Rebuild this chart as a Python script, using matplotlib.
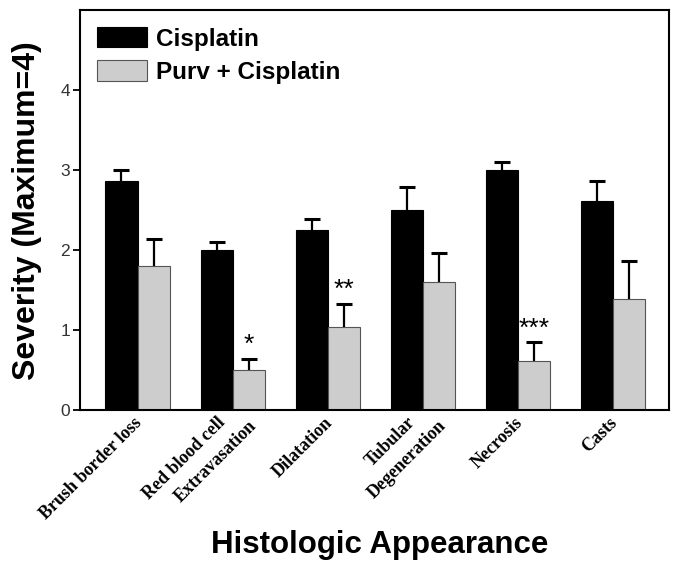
import numpy as np
import matplotlib
matplotlib.use("Agg")
import matplotlib.pyplot as plt
import matplotlib.transforms as mtransforms

categories = ["Brush border loss", "Red blood cell\nExtravasation", "Dilatation",
              "Tubular\nDegeneration", "Necrosis", "Casts"]
cisplatin = [2.87, 2.0, 2.25, 2.5, 3.0, 2.62]
cisplatin_err = [0.13, 0.10, 0.14, 0.29, 0.10, 0.25]
purv = [1.80, 0.50, 1.04, 1.60, 0.61, 1.39]
purv_err = [0.34, 0.14, 0.29, 0.37, 0.24, 0.47]
marks = ["", "*", "**", "", "***", ""]

plt.rcParams['font.family'] = ['Liberation Sans', 'DejaVu Sans']

fig = plt.figure(figsize=(6.76, 5.68), dpi=100)
ax = fig.add_axes([0.118, 0.278, 0.872, 0.704])

x = np.arange(len(categories))
w = 0.337

ax.bar(x - w / 2, cisplatin, w, color='black', edgecolor='black', linewidth=0.8,
       label='Cisplatin')
ax.bar(x + w / 2, purv, w, color='#cdcdcd', edgecolor='#555555', linewidth=0.8,
       label='Purv + Cisplatin')

# upper error bars only
for xs, ys, es in [(x - w / 2, cisplatin, cisplatin_err), (x + w / 2, purv, purv_err)]:
    eb = ax.errorbar(xs, ys, yerr=[np.zeros(len(x)), es], fmt='none',
                     ecolor='black', elinewidth=1.6, capsize=5.5, capthick=2.2)
    eb[1][0].set_visible(False)

for i, m in enumerate(marks):
    if m:
        ax.text(x[i] + w / 2, purv[i] + purv_err[i] + 0.02, m, ha='center', va='bottom',
                fontsize=19)

ax.set_xlim(-0.607, 5.59)
ax.set_ylim(0, 5)
ax.set_yticks([0, 1, 2, 3, 4])
ax.tick_params(axis='y', direction='out', length=5, width=1.3, labelsize=12.5, pad=2,
               labelcolor='#333333')
ax.set_xticks([])
for s in ax.spines.values():
    s.set_linewidth(1.5)

# rotated category labels; second line sits lower and to the right
trans = ax.get_xaxis_transform()
for i, lab in enumerate(categories):
    lines = lab.split('\n')
    for j, ln in enumerate(lines):
        if len(lines) == 1:
            dx, dy = -4, -4
        else:
            dx, dy = -16 + 31 * j, -4 - 3 * j
        off = mtransforms.ScaledTranslation(dx / 100, dy / 100, fig.dpi_scale_trans)
        ax.text(x[i], 0, ln, transform=trans + off, rotation=45, ha='right', va='top',
                rotation_mode='anchor', fontsize=13, fontweight='bold',
                family=['Liberation Serif'])

ax.set_ylabel('Severity (Maximum=4)', fontsize=23, fontweight='bold')
ax.yaxis.set_label_coords(-0.0645, 0.5)
ax.set_xlabel('Histologic Appearance', fontsize=22.5, fontweight='bold')
ax.xaxis.set_label_coords(0.508, -0.3)

leg = ax.legend(loc='upper left', frameon=False, handlelength=2.05, handleheight=0.9,
                prop={'weight': 'bold', 'size': 17.5},
                borderaxespad=0.3, labelspacing=0.4, handletextpad=0.37)

fig.savefig('out.png', dpi=100)
